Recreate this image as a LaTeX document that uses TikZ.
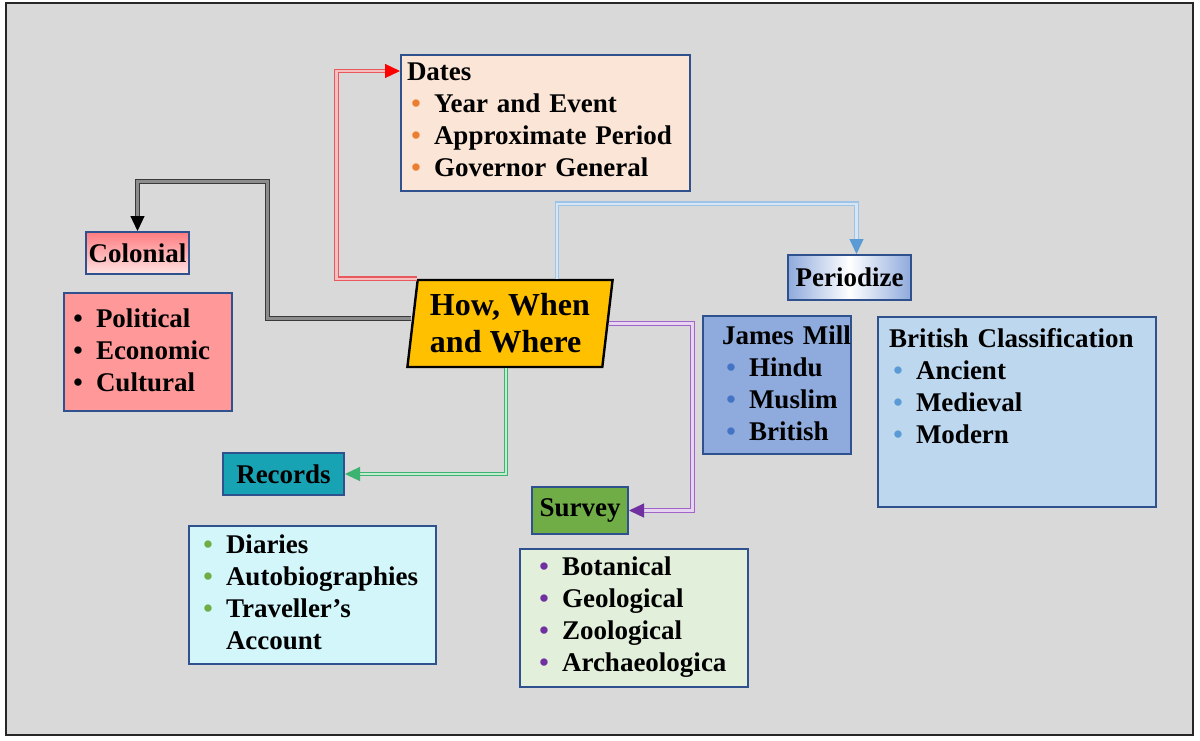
\documentclass[tikz,border=0pt]{standalone}
\usepackage{fontspec}
\setmainfont{Liberation Serif}
\usetikzlibrary{shapes.geometric,arrows.meta}

% bullet line: dot column 9pt, text after 4.5pt
\newcommand{\bitem}[2]{\mbox{\makebox[9pt][c]{\textcolor{#1}{\textbullet}}\hspace{4.5pt}#2}}

\begin{document}
\begin{tikzpicture}[x=0.5pt, y=-0.5pt,
  box/.style={draw=boxLine, line width=1pt, anchor=north west, inner sep=0pt,
    font=\fontsize{13.5}{16}\selectfont\bfseries},
  listbox/.style={box, align=left},
  link/.style={line width=0.6pt, double distance=1.2pt},
  arrowtip/.style={-{Triangle[length=7.5pt, width=7pt, color=#1]}},
]

% Colours
\definecolor{bgGray}{HTML}{D9D9D9}
\definecolor{frameLine}{HTML}{262626}
\definecolor{boxLine}{HTML}{2F528F}
\definecolor{colDates}{HTML}{FBE5D6}
\definecolor{dotOrange}{HTML}{ED7D31}
\definecolor{colTop}{HTML}{FF7C80}
\definecolor{colBot}{HTML}{FFE3E3}
\definecolor{colItems}{HTML}{FF9999}
\definecolor{hubFill}{HTML}{FFC000}
\definecolor{perBlue}{HTML}{8FAADC}
\definecolor{millFill}{HTML}{8FAADC}
\definecolor{dotMill}{HTML}{4472C4}
\definecolor{britFill}{HTML}{BDD7EE}
\definecolor{dotBrit}{HTML}{5B9BD5}
\definecolor{recFill}{HTML}{17A3B4}
\definecolor{recItems}{HTML}{D2F6FA}
\definecolor{dotGreen}{HTML}{70AD47}
\definecolor{survFill}{HTML}{70AD47}
\definecolor{survItems}{HTML}{E2EFDA}
\definecolor{dotPurple}{HTML}{7030A0}
\definecolor{lnRed}{HTML}{E8585C}
\definecolor{lnRedIn}{HTML}{F4C0C0}
\definecolor{lnBlack}{HTML}{3A3A3A}
\definecolor{lnBlackIn}{HTML}{8C8C8C}
\definecolor{lnBlue}{HTML}{9DC3E6}
\definecolor{lnBlueIn}{HTML}{D6E6F5}
\definecolor{lnPurple}{HTML}{A065C8}
\definecolor{lnPurpleIn}{HTML}{E6D4F0}
\definecolor{lnGreen}{HTML}{3CB371}
\definecolor{lnGreenIn}{HTML}{C4EBCF}

% Frame
\useasboundingbox (0,0) rectangle (1200,740);
\fill[white] (0,0) rectangle (1200,740);
\draw[line width=1pt, draw=frameLine, fill=bgGray] (6,3) rectangle (1193,735);

% Centre
\node[draw=black, line width=1.2pt, fill=hubFill, trapezium,
  trapezium left angle=81.5, trapezium right angle=98.5, trapezium stretches=true,
  minimum width=103pt, minimum height=43.5pt, inner sep=0pt, align=left,
  font=\fontsize{16}{18.5}\selectfont\bfseries] (hub) at (510,323.5) {How, When\\and Where};

% Dates
\node[listbox, fill=colDates, text width=138.5pt, inner xsep=3pt,
  text height=12.5pt, text depth=55.5pt] (dates) at (400,54)
  {Dates\\ \bitem{dotOrange}{Year and Event}\\ \bitem{dotOrange}{Approximate Period}\\ \bitem{dotOrange}{Governor General}};

% Colonial
\node[box, top color=colTop, bottom color=colBot, minimum width=51.5pt, minimum height=21pt] (colonial) at (85,231) {Colonial};
\node[listbox, fill=colItems, text width=79pt, inner xsep=2.5pt,
  text height=17.25pt, text depth=41.75pt] (colitems) at (63,292)
  {\bitem{black}{Political}\\ \bitem{black}{Economic}\\ \bitem{black}{Cultural}};

% Periodize
\node[box, left color=perBlue, right color=perBlue, middle color=white, minimum width=61.5pt, minimum height=22.5pt] (periodize) at (787,254) {Periodize};
\node[listbox, fill=millFill, text width=55pt, inner xsep=9.5pt,
  text height=14.25pt, text depth=54.75pt] (mill) at (702,315)
  {\mbox{James Mill}\\ \bitem{dotMill}{Hindu}\\ \bitem{dotMill}{Muslim}\\ \bitem{dotMill}{British}};
\node[listbox, fill=britFill, text width=128pt, inner xsep=5.5pt,
  text height=15.25pt, text depth=79.75pt] (british) at (877,316)
  {\mbox{British Classification}\\ \bitem{dotBrit}{Ancient}\\ \bitem{dotBrit}{Medieval}\\ \bitem{dotBrit}{Modern}};

% Records
\node[box, fill=recFill, minimum width=60.5pt, minimum height=21pt] (records) at (222,452) {Records};
\node[listbox, fill=recItems, text width=113.5pt, inner xsep=5pt,
  text height=13.75pt, text depth=55.25pt] (recitems) at (188,525)
  {\bitem{dotGreen}{Diaries}\\ \bitem{dotGreen}{Autobiographies}\\ \bitem{dotGreen}{Traveller’s}\\ \hspace*{13.5pt}Account};

% Survey
\node[box, fill=survFill, minimum width=48pt, minimum height=23.5pt] (survey) at (531,486) {Survey};
\node[listbox, fill=survItems, text width=99pt, inner xsep=7.5pt,
  text height=13.25pt, text depth=55.75pt] (survitems) at (519,548)
  {\bitem{dotPurple}{Botanical}\\ \bitem{dotPurple}{Geological}\\ \bitem{dotPurple}{Zoological}\\ \bitem{dotPurple}{Archaeologica}};

% Connectors
\draw[link, draw=lnRed, double=lnRedIn, arrowtip=red]
  (hub.top left corner) -- ++(-80,0) |- ([yshift=-8.5pt]dates.north west);
\draw[link, draw=lnBlack, double=lnBlackIn, arrowtip=black]
  ([yshift=2.5pt]hub.west) -- ++(-144,0) -- ++(0,-137) -| (colonial.north);
\draw[link, draw=lnBlue, double=lnBlueIn, arrowtip=dotBrit]
  ([xshift=23.5pt]hub.north) -- ++(0,-75) -| ([xshift=3.5pt]periodize.north);
\draw[link, draw=lnPurple, double=lnPurpleIn, arrowtip=dotPurple]
  (hub.east) -- ++(84,0) |- (survey.east);
\draw[link, draw=lnGreen, double=lnGreenIn, arrowtip=lnGreen]
  ([xshift=-2pt]hub.south) |- (records.east);

\end{tikzpicture}
\end{document}
